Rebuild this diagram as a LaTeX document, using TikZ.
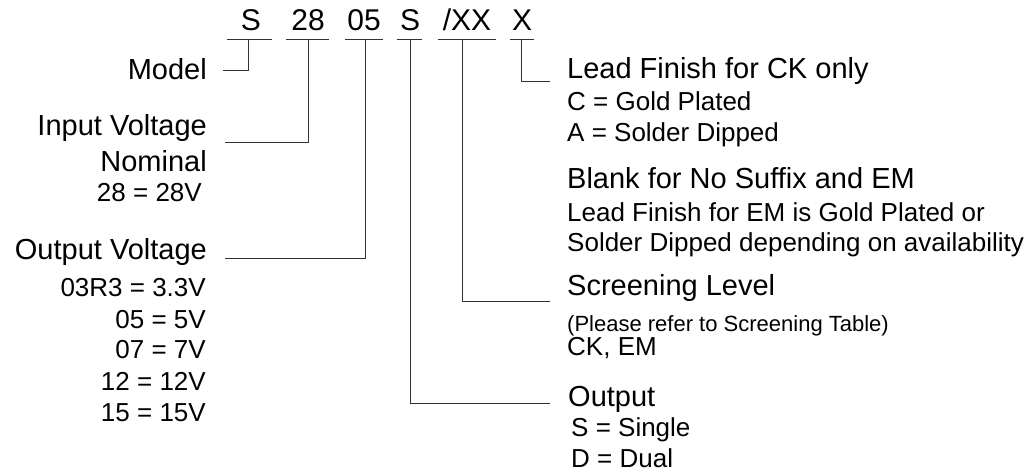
\documentclass[tikz,border=0pt]{standalone}
\usepackage{fontspec}
\setmainfont{Liberation Sans}
\begin{document}
\begin{tikzpicture}[x=1pt,y=-1pt,
  code/.style={inner sep=0pt, anchor=base, font=\fontsize{30}{36}\selectfont},
  headl/.style={inner sep=0pt, anchor=base east, font=\fontsize{29}{34}\selectfont},
  subl/.style={inner sep=0pt, anchor=base east, font=\fontsize{26}{31}\selectfont},
  headr/.style={inner sep=0pt, anchor=base west, font=\fontsize{29}{34}\selectfont},
  subr/.style={inner sep=0pt, anchor=base west, font=\fontsize{26}{31}\selectfont},
  noter/.style={inner sep=0pt, anchor=base west, font=\fontsize{22}{26}\selectfont},
  ln/.style={line width=1pt, draw=black!80}]
\useasboundingbox (0,0) rectangle (1032,474);

% code characters
\node[code] (cS)  at (251,30) {S};
\node[code] (c28) at (308,30) {28};
\node[code] (c05) at (364,30) {05};
\node[code] (cO)  at (410,30) {S};
\node[code] (cXX) at (467,30) {/XX};
\node[code] (cX)  at (522,30) {X};

% underlines
\coordinate (uSa) at (226.7,39);  \coordinate (uSb) at (271.7,39);
\coordinate (u28a) at (286,39);   \coordinate (u28b) at (329,39);
\coordinate (u05a) at (345,39);   \coordinate (u05b) at (382.7,39);
\coordinate (uOa) at (396.7,39);  \coordinate (uOb) at (421.7,39);
\coordinate (uXXa) at (437.7,39); \coordinate (uXXb) at (496,39);
\coordinate (uXa) at (510,39);    \coordinate (uXb) at (534.3,39);
\foreach \a/\b in {uSa/uSb,u28a/u28b,u05a/u05b,uOa/uOb,uXXa/uXXb,uXa/uXb}
  \draw[ln] (\a) -- (\b);

% tap points
\coordinate (tS)  at (248.3,39);
\coordinate (t28) at (308.3,39);
\coordinate (t05) at (365,39);
\coordinate (tO)  at (410,39);
\coordinate (tXX) at (462.7,39);
\coordinate (tX)  at (521.7,39);

% left labels
\node[headl] (model) at (207,79.3) {Model};
\node[headl] (inv)   at (207,135) {Input Voltage};
\node[headl] (nom)   at (207,171.7) {Nominal};
\node[subl]  (v28)   at (202,201.7) {28 = 28V};
\node[headl] (outv)  at (207,259) {Output Voltage};
\node[subl]  (o1) at (206,296.7) {03R3 = 3.3V};
\node[subl]  (o2) at (206,328)   {05 = 5V};
\node[subl]  (o3) at (206,358.7) {07 = 7V};
\node[subl]  (o4) at (206,390)   {12 = 12V};
\node[subl]  (o5) at (206,421.5) {15 = 15V};

% right labels
\node[headr] (lead)  at (567,78)    {Lead Finish for CK only};
\node[subr]  (l1)    at (567,110)   {C = Gold Plated};
\node[subr]  (l2)    at (567,141.7) {A = Solder Dipped};
\node[headr] (blank) at (567,188.3) {Blank for No Suffix and EM};
\node[subr]  (b1)    at (567,221)   {Lead Finish for EM is Gold Plated or};
\node[subr]  (b2)    at (567,251.5) {Solder Dipped depending on availability};
\node[headr] (scr)   at (567,295)   {Screening Level};
\node[noter] (s1)    at (567,331.7) {(Please refer to Screening Table)};
\node[subr]  (s2)    at (567,355)   {CK, EM};
\node[headr] (outp)  at (568,406)   {Output};
\node[subr]  (p1)    at (571,436.7) {S = Single};
\node[subr]  (p2)    at (571,467)   {D = Dual};

% free ends of connectors
\coordinate (eModel) at (223.3,70);
\coordinate (eInv)   at (225,142.7);
\coordinate (eOutv)  at (225,258.3);
\coordinate (eOutp)  at (550,403.3);
\coordinate (eScr)   at (550,301);
\coordinate (eLead)  at (550,81.7);

% connectors
\draw[ln] (tS)  |- (eModel);
\draw[ln] (t28) |- (eInv);
\draw[ln] (t05) |- (eOutv);
\draw[ln] (tO)  |- (eOutp);
\draw[ln] (tXX) |- (eScr);
\draw[ln] (tX)  |- (eLead);
\end{tikzpicture}
\end{document}
